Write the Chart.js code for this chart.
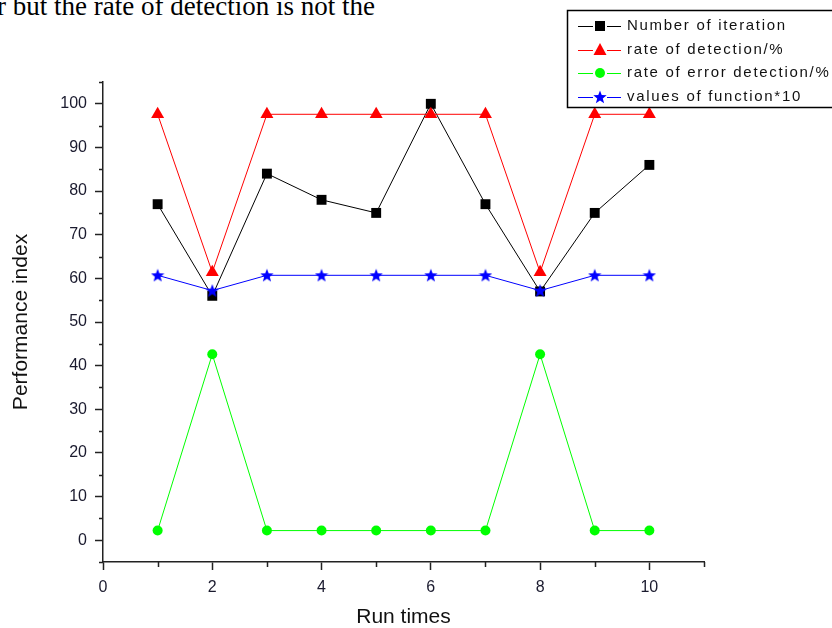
<!DOCTYPE html>
<html>
<head>
<meta charset="utf-8">
<script src="https://cdn.jsdelivr.net/npm/chart.js@4.4.1/dist/chart.umd.min.js"></script>
<style>
  html, body { margin: 0; padding: 0; background: #fff; }
  #wrap { position: relative; width: 832px; height: 628px; overflow: hidden; background: #fff; }
  #topline { position: absolute; left: -3px; top: -7px; font-family: 'Liberation Serif', 'Times New Roman', serif; font-size: 27px; line-height: 27px; color: #000; white-space: nowrap; }
  canvas { position: absolute; left: 0; top: 0; }
</style>
</head>
<body>
<div id="wrap">
  <div id="topline">r but the rate of detection is not the</div>
  <canvas id="c" width="832" height="628"></canvas>
</div>
<script>
// ---- data ----
const runTimes = [1, 2, 3, 4, 5, 6, 7, 8, 9, 10];
const numberOfIteration = [77, 56, 84, 78, 75, 100, 77, 57, 75, 86];
const rateOfDetection = [97.6, 61.4, 97.6, 97.6, 97.6, 97.6, 97.6, 61.4, 97.6, 97.6];
const rateOfErrorDetection = [2.2, 42.6, 2.2, 2.2, 2.2, 2.2, 2.2, 42.6, 2.2, 2.2];
const valuesOfFunction10 = [60.7, 57.2, 60.7, 60.7, 60.7, 60.7, 60.7, 57.2, 60.7, 60.7];
const seriesNames = ['Number of iteration', 'rate of detection/%', 'rate of error detection/%', 'values of function*10'];
const xTickValues = [0, 2, 4, 6, 8, 10];
const xMinorValues = [1, 3, 5, 7, 9, 11];
const yTickValues = [0, 10, 20, 30, 40, 50, 60, 70, 80, 90, 100];
const yMinorValues = [-5, 5, 15, 25, 35, 45, 55, 65, 75, 85, 95, 105];

// filled five-pointed star marker
function makeStar(size, color) {
  const cv = document.createElement('canvas');
  cv.width = size; cv.height = size;
  const g = cv.getContext('2d');
  const cx = size / 2, cy = size / 2 + 0.5, R = size / 2, r = R * 0.42;
  g.beginPath();
  for (let i = 0; i < 10; i++) {
    const rad = i % 2 === 0 ? R : r;
    const a = -Math.PI / 2 + i * Math.PI / 5;
    const px = cx + rad * Math.cos(a), py = cy + rad * Math.sin(a);
    if (i === 0) g.moveTo(px, py); else g.lineTo(px, py);
  }
  g.closePath();
  g.fillStyle = color;
  g.fill();
  return cv;
}
const starImg = makeStar(14, '#0000ff');

const toPts = arr => runTimes.map((x, i) => ({ x: x, y: arr[i] }));

const styles = [
  { color: '#000000', pointStyle: 'rect', radius: 7 },
  { color: '#ff0000', pointStyle: 'triangle', radius: 7.5 },
  { color: '#00ff00', pointStyle: 'circle', radius: 5 },
  { color: '#0000ff', pointStyle: starImg, radius: 7 }
];
const seriesData = [numberOfIteration, rateOfDetection, rateOfErrorDetection, valuesOfFunction10];

const datasets = seriesData.map((arr, i) => ({
  label: seriesNames[i],
  data: toPts(arr),
  borderColor: styles[i].color,
  backgroundColor: styles[i].color,
  borderWidth: 1,
  pointStyle: styles[i].pointStyle,
  pointRadius: styles[i].radius,
  pointHoverRadius: styles[i].radius,
  pointBorderWidth: 0,
  pointBackgroundColor: styles[i].color,
  tension: 0,
  order: 3 - i
}));

const minorTicks = {
  id: 'minorTicks',
  afterDraw(chart) {
    const ctx = chart.ctx;
    const xs = chart.scales.x, ys = chart.scales.y;
    const area = chart.chartArea;
    ctx.save();
    ctx.strokeStyle = '#222';
    ctx.lineWidth = 1.5;
    ctx.beginPath();
    xMinorValues.forEach(v => {
      const px = Math.round(xs.getPixelForValue(v)) + 0.5;
      ctx.moveTo(px, area.bottom);
      ctx.lineTo(px, area.bottom + 5);
    });
    yMinorValues.forEach(v => {
      const py = Math.round(ys.getPixelForValue(v)) + 0.5;
      ctx.moveTo(area.left - 4, py);
      ctx.lineTo(area.left, py);
    });
    ctx.stroke();
    ctx.restore();
  }
};

const legendBox = {
  id: 'legendBox',
  afterDraw(chart) {
    const ctx = chart.ctx;
    ctx.save();
    ctx.strokeStyle = '#000';
    ctx.lineWidth = 1.5;
    ctx.strokeRect(567.5, 10.5, 300, 97);
    const rows = [26, 50, 73, 97];
    ctx.font = '15px "Liberation Sans", Arial, sans-serif';
    ctx.letterSpacing = '1.7px';
    ctx.textBaseline = 'middle';
    ctx.textAlign = 'left';
    seriesNames.forEach((name, i) => {
      const y = rows[i];
      const st = styles[i];
      ctx.strokeStyle = st.color;
      ctx.lineWidth = 1;
      ctx.beginPath();
      ctx.moveTo(578, y + 0.5);
      ctx.lineTo(593, y + 0.5);
      ctx.moveTo(607, y + 0.5);
      ctx.lineTo(621, y + 0.5);
      ctx.stroke();
      if (i === 3) {
        ctx.drawImage(starImg, 600 - 7, y - 7);
      } else {
        ctx.fillStyle = st.color;
        ctx.beginPath();
        if (st.pointStyle === 'rect') {
          ctx.rect(595, y - 5, 10, 10);
        } else if (st.pointStyle === 'triangle') {
          ctx.moveTo(600, y - 7); ctx.lineTo(606.5, y + 5); ctx.lineTo(593.5, y + 5); ctx.closePath();
        } else {
          ctx.arc(600, y, 5, 0, Math.PI * 2);
        }
        ctx.fill();
      }
      ctx.fillStyle = '#111';
      ctx.fillText(name, 627, y);
    });
    ctx.restore();
  }
};

new Chart(document.getElementById('c'), {
  type: 'line',
  data: { datasets: datasets },
  options: {
    responsive: false,
    animation: false,
    devicePixelRatio: 1,
    layout: { padding: { top: 82, right: 128, left: 0, bottom: 0 } },
    plugins: { legend: { display: false }, tooltip: { enabled: false } },
    scales: {
      x: {
        type: 'linear',
        min: 0, max: 11,
        afterBuildTicks: s => { s.ticks = xTickValues.map(v => ({ value: v })); },
        afterFit: s => { s.height = 66; },
        grid: { display: true, drawOnChartArea: false, drawTicks: true, tickLength: 8, tickColor: '#222', tickWidth: 1.5 },
        border: { display: true, color: '#222', width: 1.5 },
        ticks: { color: '#1a1a2e', font: { family: '"Liberation Sans", Arial, sans-serif', size: 16 }, padding: 8, maxRotation: 0 },
        title: { display: true, text: 'Run times', color: '#111', font: { family: '"Liberation Sans", Arial, sans-serif', size: 21, lineHeight: 1.0 }, padding: { top: 0, bottom: 0 } }
      },
      y: {
        type: 'linear',
        min: -5, max: 105,
        afterBuildTicks: s => { s.ticks = yTickValues.map(v => ({ value: v })); },
        afterFit: s => { s.width = 103; },
        grid: { display: true, drawOnChartArea: false, drawTicks: true, tickLength: 8, tickColor: '#222', tickWidth: 1.5 },
        border: { display: true, color: '#222', width: 1.5 },
        ticks: { color: '#1a1a2e', font: { family: '"Liberation Sans", Arial, sans-serif', size: 16 }, padding: 8 },
        title: { display: true, text: 'Performance index', color: '#111', font: { family: '"Liberation Sans", Arial, sans-serif', size: 21 }, padding: { top: 9, bottom: 0 } }
      }
    }
  },
  plugins: [minorTicks, legendBox]
});
</script>
</body>
</html>
